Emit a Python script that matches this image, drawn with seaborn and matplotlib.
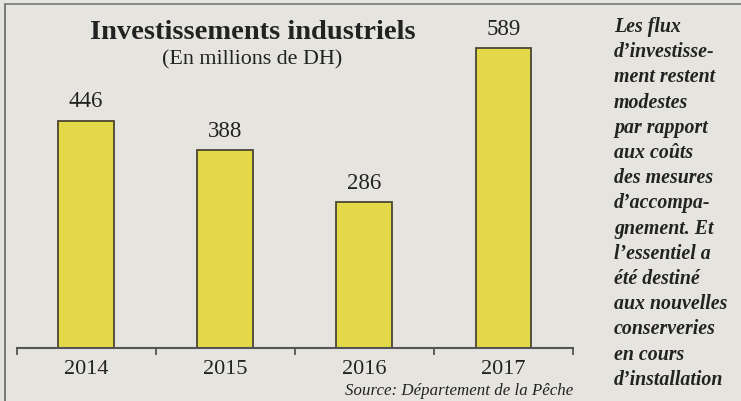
import matplotlib
matplotlib.use("Agg")
import matplotlib.pyplot as plt
import seaborn as sns
import pandas as pd

years = ["2014", "2015", "2016", "2017"]
values = [446, 388, 286, 589]
title = "Investissements industriels"
subtitle = "(En millions de DH)"
source = "Source: Département de la Pêche"
side_lines = ["Les flux", "d\u2019investisse-", "ment restent", "modestes",
              "par rapport", "aux coûts", "des mesures", "d\u2019accompa-",
              "gnement. Et", "l\u2019essentiel a", "été destiné",
              "aux nouvelles", "conserveries", "en cours", "d\u2019installation"]

BG = "#e6e4df"
BAR = "#e3d848"
EDGE = "#4a4632"
TXT = "#222222"

sns.set_theme(style="white")
plt.rcParams["font.family"] = ["Liberation Serif", "DejaVu Serif"]

W, H = 741, 402
fig = plt.figure(figsize=(W / 100, H / 100), dpi=100, facecolor=BG)

def fx(px):
    return px / W

def fy(py):
    return 1 - py / H

# axes: left 16.5px, right 573px, baseline 348.5px, top 5px
ax = fig.add_axes([fx(16.5), fy(348.5), fx(573) - fx(16.5), fy(5) - fy(348.5)])
ax.set_facecolor("none")

df = pd.DataFrame({"year": years, "value": values})
sns.barplot(data=df, x="year", y="value", width=0.40, color=BAR,
            edgecolor=EDGE, linewidth=1.3, saturation=1, ax=ax)

ax.set_xlim(-0.5, 3.5)
ax.set_ylim(0, 343.5 / 0.508)

for i, v in enumerate(values):
    ax.annotate(str(v), (i, v), xytext=(0, 10.5), textcoords="offset points",
                ha="center", va="baseline", fontsize=16.5, color=TXT)

for s in ["top", "right", "left"]:
    ax.spines[s].set_visible(False)
ax.spines["bottom"].set_color("#555555")
ax.spines["bottom"].set_linewidth(1.5)
ax.set_yticks([])
ax.set_xlabel("")
ax.set_ylabel("")
ax.set_xticks(range(len(years)))
ax.set_xticklabels(years, fontsize=16, color=TXT)
ax.tick_params(axis="x", which="major", length=0, pad=8)
ax.set_xticks([-0.5, 0.5, 1.5, 2.5, 3.5], minor=True)
ax.tick_params(axis="x", which="minor", bottom=True, length=5, width=1.3,
               color="#555555", direction="out")

fig.text(fx(253), fy(39), title, ha="center", va="baseline",
         fontsize=20.5, fontweight="bold", color=TXT)
fig.text(fx(252), fy(64), subtitle, ha="center", va="baseline",
         fontsize=15.8, color=TXT)
fig.text(fx(573), fy(395), source, ha="right", va="baseline",
         fontsize=12.2, style="italic", color=TXT)

for k, line in enumerate(side_lines):
    fig.text(fx(614), fy(32 + k * 25.2), line, ha="left", va="baseline",
             fontsize=14.3, fontweight="bold", style="italic", color=TXT)

# frame lines (left and top)
fig.add_artist(plt.Line2D([fx(5), fx(5)], [fy(5), 0], color="#666666", lw=1.2))
fig.add_artist(plt.Line2D([fx(5), 1], [fy(5), fy(5)], color="#777777", lw=1.2))

fig.savefig("out.png", dpi=100, facecolor=BG)
